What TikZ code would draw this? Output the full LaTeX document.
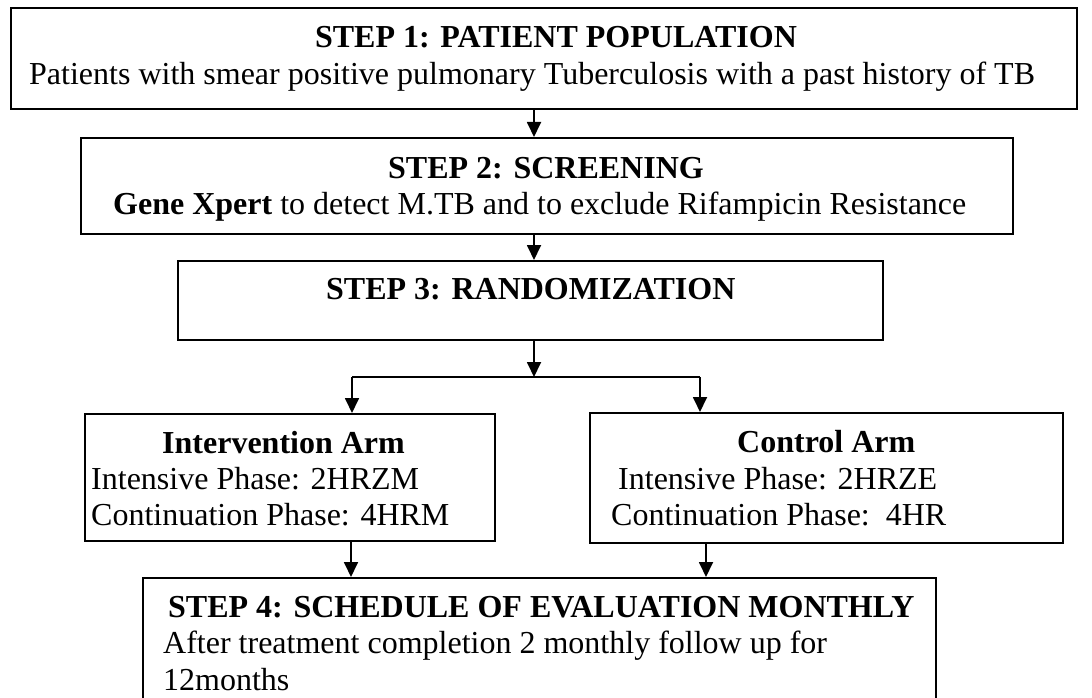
\documentclass[tikz,border=0pt]{standalone}
\usepackage{fontspec}
\setmainfont{Liberation Serif}
\usetikzlibrary{arrows.meta}
\begin{document}
\begin{tikzpicture}[x=1pt,y=-1pt,
  boxst/.style={draw, line width=2pt, rectangle, inner sep=0pt, anchor=north west},
  txt/.style={inner sep=0pt, anchor=base west, font=\fontsize{32}{36}\selectfont},
  hd/.style={txt, font=\fontsize{32}{36}\selectfont\bfseries},
  conn/.style={line width=1.8pt},
  arr/.style={conn, -{Triangle[length=15pt,width=14pt]}}]
\useasboundingbox (0,0) rectangle (1092,698);
% boxes
\node[boxst, minimum width=1066pt, minimum height=101pt] (b1) at (10,7) {};
\node[boxst, minimum width=932pt, minimum height=96pt] (b2) at (80,137) {};
\node[boxst, minimum width=705pt, minimum height=79pt] (b3) at (177,260) {};
\node[boxst, minimum width=410pt, minimum height=127pt] (bi) at (84,413) {};
\node[boxst, minimum width=473pt, minimum height=130pt] (bc) at (589,412) {};
\node[boxst, minimum width=793pt, minimum height=160pt] (b4) at (142,577) {};
% texts
\node[hd, anchor=base] (t1a) at (556,48) {STEP 1: PATIENT POPULATION};
\node[txt] (t1b) at (29,85) {Patients with smear positive pulmonary Tuberculosis with a past history of TB};
\node[hd, anchor=base] (t2a) at (546,178) {STEP 2: SCREENING};
\node[txt] (t2b) at (113,214) {\textbf{Gene Xpert} to detect M.TB and to exclude Rifampicin Resistance};
\node[hd] (t3) at (326,299) {STEP 3: RANDOMIZATION};
\node[hd] (ti1) at (162,453) {Intervention Arm};
\node[txt] (ti2) at (91,489) {Intensive Phase: 2HRZM};
\node[txt] (ti3) at (91,525) {Continuation Phase: 4HRM};
\node[hd] (tc1) at (737,452) {Control Arm};
\node[txt] (tc2) at (618,489) {Intensive Phase: 2HRZE};
\node[txt] (tc3) at (611,525) {Continuation Phase:\ \ 4HR};
\node[hd] (t4a) at (168,617) {STEP 4: SCHEDULE OF EVALUATION MONTHLY};
\node[txt] (t4b) at (163,653) {After treatment completion 2 monthly follow up for};
\node[txt] (t4c) at (163,690) {12months};
% connectors
\coordinate (ax) at (534,0);
\coordinate (split) at (534,377);
\coordinate (lx) at (352,377);
\coordinate (rx) at (700,377);
\coordinate (ix) at (351,0);
\coordinate (cx) at (706,0);
\draw[arr] (b1.south -| ax) -- (b2.north -| ax);
\draw[arr] (b2.south -| ax) -- (b3.north -| ax);
\draw[arr] (b3.south -| ax) -- (split);
\draw[conn] (lx) -- (rx);
\draw[arr] (lx) -- (bi.north -| lx);
\draw[arr] (rx) -- (bc.north -| rx);
\draw[arr] (bi.south -| ix) -- (b4.north -| ix);
\draw[arr] (bc.south -| cx) -- (b4.north -| cx);
\end{tikzpicture}
\end{document}
